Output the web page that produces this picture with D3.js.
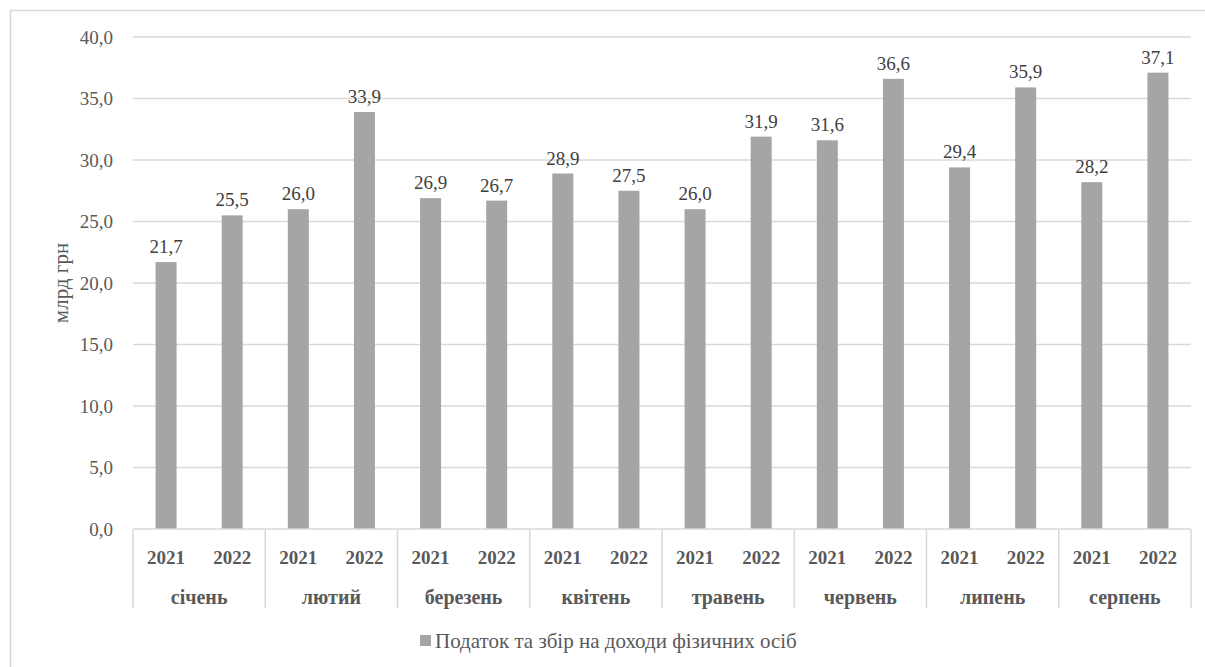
<!DOCTYPE html>
<html>
<head>
<meta charset="utf-8">
<script src="https://cdn.jsdelivr.net/npm/d3@7"></script>
<style>
  body { margin: 0; background: #fff; }
</style>
</head>
<body>
<script>
// data
var months = ["січень", "лютий", "березень", "квітень", "травень", "червень", "липень", "серпень"];
var years = ["2021", "2022"];
var values2021 = [21.7, 26.0, 26.9, 28.9, 26.0, 31.6, 29.4, 28.2];
var values2022 = [25.5, 33.9, 26.7, 27.5, 31.9, 36.6, 35.9, 37.1];
var yTicks = [0, 5, 10, 15, 20, 25, 30, 35, 40];
var seriesName = "Податок та збір на доходи фізичних осіб";

var W = 1205, H = 667;
var margin = {top: 37, left: 133, right: 14, bottom: 138};
var width = W - margin.left - margin.right,
    height = H - margin.top - margin.bottom;
var fontSize = "19px";
var fontFamily = "Liberation Serif, Tinos, Times New Roman, DejaVu Serif, Noto Serif, serif";

var fmt = function(v) { return v.toFixed(1).replace(".", ","); };

var data = [];
months.forEach(function(m, i) {
  data.push({month: m, year: years[0], value: values2021[i]});
  data.push({month: m, year: years[1], value: values2022[i]});
});

var svg = d3.select("body").append("svg")
    .attr("width", W)
    .attr("height", H);

// outer chart frame (cropped at right/bottom)
svg.append("rect")
    .attr("x", 10.5).attr("y", 10.5)
    .attr("width", W).attr("height", H)
    .attr("fill", "none")
    .attr("stroke", "#d9d9d9")
    .attr("stroke-width", 1.5);

var g = svg.append("g")
    .attr("transform", "translate(" + margin.left + "," + margin.top + ")");

var x0 = d3.scaleBand().domain(months).range([0, width]);
var x1 = d3.scaleBand().domain(years).range([0, x0.bandwidth()]);
var y = d3.scaleLinear().domain([0, 40]).range([height, 0]);

// gridlines
g.append("g").selectAll("line")
    .data(yTicks.filter(function(d) { return d > 0; }))
  .enter().append("line")
    .attr("x1", 0).attr("x2", width)
    .attr("y1", function(d) { return y(d); })
    .attr("y2", function(d) { return y(d); })
    .attr("stroke", "#d9d9d9")
    .attr("stroke-width", 1.5);

// y axis labels
g.append("g").selectAll("text")
    .data(yTicks)
  .enter().append("text")
    .attr("x", -20)
    .attr("y", function(d) { return y(d); })
    .attr("dy", "0.35em")
    .attr("text-anchor", "end")
    .attr("fill", "#595959")
    .style("font-family", fontFamily)
    .style("font-size", fontSize)
    .text(fmt);

// y axis title
g.append("text")
    .attr("transform", "rotate(-90)")
    .attr("x", -height / 2)
    .attr("y", -65)
    .attr("text-anchor", "middle")
    .attr("fill", "#595959")
    .style("font-family", fontFamily)
    .style("font-size", "21px")
    .text("млрд грн");

// bars
var barW = 21;
g.append("g").selectAll("rect")
    .data(data)
  .enter().append("rect")
    .attr("x", function(d) { return x0(d.month) + x1(d.year) + x1.bandwidth() / 2 - barW / 2; })
    .attr("y", function(d) { return y(d.value); })
    .attr("width", barW)
    .attr("height", function(d) { return height - y(d.value); })
    .attr("fill", "#a5a5a5");

// value labels
g.append("g").selectAll("text")
    .data(data)
  .enter().append("text")
    .attr("x", function(d) { return x0(d.month) + x1(d.year) + x1.bandwidth() / 2; })
    .attr("y", function(d) { return y(d.value) - 9; })
    .attr("text-anchor", "middle")
    .attr("fill", "#404040")
    .style("font-family", fontFamily)
    .style("font-size", fontSize)
    .text(function(d) { return fmt(d.value); });

// category axis
var axis = g.append("g").attr("transform", "translate(0," + height + ")");
axis.append("line")
    .attr("x1", 0).attr("x2", width)
    .attr("stroke", "#d9d9d9").attr("stroke-width", 1.5);
axis.selectAll(".sep")
    .data(months.concat(["end"]))
  .enter().append("line")
    .attr("class", "sep")
    .attr("x1", function(d, i) { return i * x0.bandwidth(); })
    .attr("x2", function(d, i) { return i * x0.bandwidth(); })
    .attr("y1", 0).attr("y2", 79)
    .attr("stroke", "#d9d9d9").attr("stroke-width", 1.5);

axis.selectAll(".yr")
    .data(data)
  .enter().append("text")
    .attr("class", "yr")
    .attr("x", function(d) { return x0(d.month) + x1(d.year) + x1.bandwidth() / 2; })
    .attr("y", 35)
    .attr("text-anchor", "middle")
    .attr("fill", "#595959")
    .style("font-family", fontFamily)
    .style("font-size", fontSize)
    .style("font-weight", "bold")
    .text(function(d) { return d.year; });

axis.selectAll(".mo")
    .data(months)
  .enter().append("text")
    .attr("class", "mo")
    .attr("x", function(d) { return x0(d) + x0.bandwidth() / 2; })
    .attr("y", 75)
    .attr("text-anchor", "middle")
    .attr("fill", "#595959")
    .style("font-family", fontFamily)
    .style("font-size", "20px")
    .style("font-weight", "bold")
    .text(function(d) { return d; });

// legend
var legend = svg.append("g").attr("transform", "translate(420,641)");
legend.append("rect")
    .attr("x", 0).attr("y", -6)
    .attr("width", 11).attr("height", 11)
    .attr("fill", "#a5a5a5");
legend.append("text")
    .attr("x", 15)
    .attr("dy", "0.35em")
    .attr("fill", "#595959")
    .style("font-family", fontFamily)
    .style("font-size", "21px")
    .text(seriesName);
</script>
</body>
</html>
